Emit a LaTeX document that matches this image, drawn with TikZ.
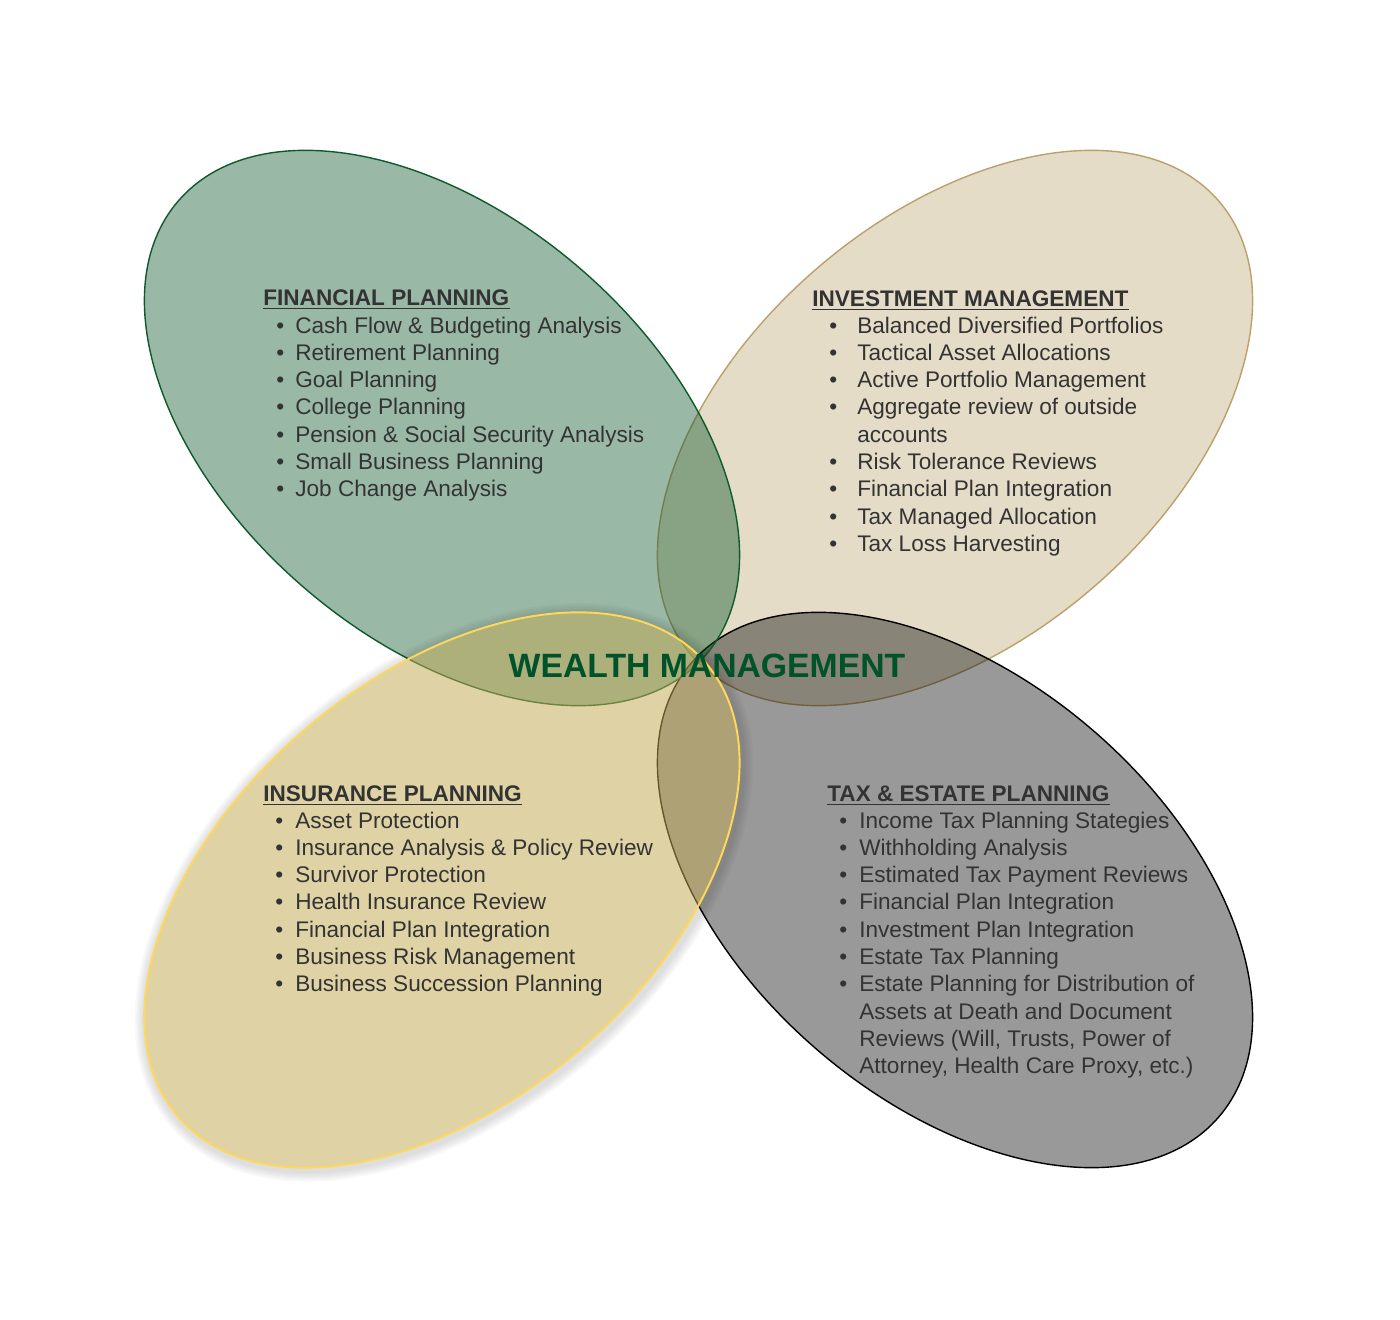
\documentclass[tikz,border=0pt]{standalone}
\usepackage{fontspec}
\setmainfont{Liberation Sans}
\usepackage{array}
\usetikzlibrary{positioning, calc}
\definecolor{fingreen}{HTML}{004E21}
\definecolor{finedge}{HTML}{0F5A2C}
\definecolor{invtan}{HTML}{BBA773}
\definecolor{invedge}{HTML}{BBA06B}
\definecolor{insgold}{HTML}{C2AA54}
\definecolor{insedge}{HTML}{FFD85A}
\definecolor{titlegreen}{HTML}{00522A}
\definecolor{textgray}{HTML}{333333}

% bullet column of width #1, rows in #2
\newcommand{\itemlist}[2]{%
  \begin{tabular}[t]{@{}p{#1}@{}l@{}}#2\end{tabular}}

\begin{document}
\begin{tikzpicture}[
  x=0.02cm, y=-0.02cm,
  petal/.style={line width=0.8pt},
  fin petal/.style={petal, draw=finedge, fill=fingreen, fill opacity=0.4},
  inv petal/.style={petal, draw=invedge, fill=invtan, fill opacity=0.4},
  tax petal/.style={petal, draw=black, fill=black, fill opacity=0.4},
  ins petal/.style={petal, line width=1.1pt, draw=insedge, fill=insgold,
    fill opacity=0.52},
  heading/.style={inner sep=0pt, anchor=base west, text=textgray,
    font=\fontsize{12.85}{15.53}\selectfont\bfseries},
  itemtext/.style={inner sep=0pt, anchor=base west, text=textgray,
    font=\fontsize{12.85}{15.53}\selectfont},
  uline/.style={textgray, line width=1.1pt}
]
  \useasboundingbox (0,0) rectangle (1400,1319);
  % Petal centres
  \coordinate (fin) at (442,428);
  \coordinate (inv) at (955,428);
  \coordinate (ins) at (442,890);
  \coordinate (tax) at (955,890);
  % Petals
  \foreach \p/\a in {inv/40.7, tax/-40.7, fin/-40.7}
    \draw[\p\space petal, rotate around={\a:(\p)}] (\p) ellipse (348 and 211);
  % Soft shadow under the insurance petal
  \foreach \k in {4,6,...,12}
    \fill[black, opacity=0.028, even odd rule, rotate around={40.7:(ins)}]
      ($(ins)+(0,3)$) ellipse [x radius=348+\k, y radius=211+\k]
      (ins) ellipse [x radius=348, y radius=211];
  \draw[ins petal, rotate around={40.7:(ins)}] (ins) ellipse (348 and 211);

  % Centre title
  \node[font=\fontsize{19.2}{23}\selectfont\bfseries, text=titlegreen,
    anchor=base, inner sep=0pt] (wm) at (707,677) {WEALTH MANAGEMENT};

  % Headings
  \node[heading] (finhead) at (263,305) {FINANCIAL PLANNING};
  \node[heading] (invhead) at (812,306) {INVESTMENT MANAGEMENT};
  \node[heading] (inshead) at (263,801) {INSURANCE PLANNING};
  \node[heading] (taxhead) at (827,801) {TAX \& ESTATE PLANNING};
  \foreach \h in {finhead, invhead, inshead, taxhead}
    \draw[uline] ([yshift=-0.07cm]\h.base west) -- ([yshift=-0.07cm]\h.base east);

  % Lists
  \node[itemtext] (finlist) at (276,333) {\itemlist{0.38cm}{
    • & Cash Flow \& Budgeting Analysis\\
    • & Retirement Planning\\
    • & Goal Planning\\
    • & College Planning\\
    • & Pension \& Social Security Analysis\\
    • & Small Business Planning\\
    • & Job Change Analysis}};
  \node[itemtext] (invlist) at (829,333) {\itemlist{0.56cm}{
    • & Balanced Diversified Portfolios\\
    • & Tactical Asset Allocations\\
    • & Active Portfolio Management\\
    • & Aggregate review of outside\\
      & accounts\\
    • & Risk Tolerance Reviews\\
    • & Financial Plan Integration\\
    • & Tax Managed Allocation\\
    • & Tax Loss Harvesting}};
  \node[itemtext] (inslist) at (275,828) {\itemlist{0.40cm}{
    • & Asset Protection\\
    • & Insurance Analysis \& Policy Review\\
    • & Survivor Protection\\
    • & Health Insurance Review\\
    • & Financial Plan Integration\\
    • & Business Risk Management\\
    • & Business Succession Planning}};
  \node[itemtext] (taxlist) at (839,828) {\itemlist{0.40cm}{
    • & Income Tax Planning Stategies\\
    • & Withholding Analysis\\
    • & Estimated Tax Payment Reviews\\
    • & Financial Plan Integration\\
    • & Investment Plan Integration\\
    • & Estate Tax Planning\\
    • & Estate Planning for Distribution of\\
      & Assets at Death and Document\\
      & Reviews (Will, Trusts, Power of\\
      & Attorney, Health Care Proxy, etc.)}};
\end{tikzpicture}
\end{document}
